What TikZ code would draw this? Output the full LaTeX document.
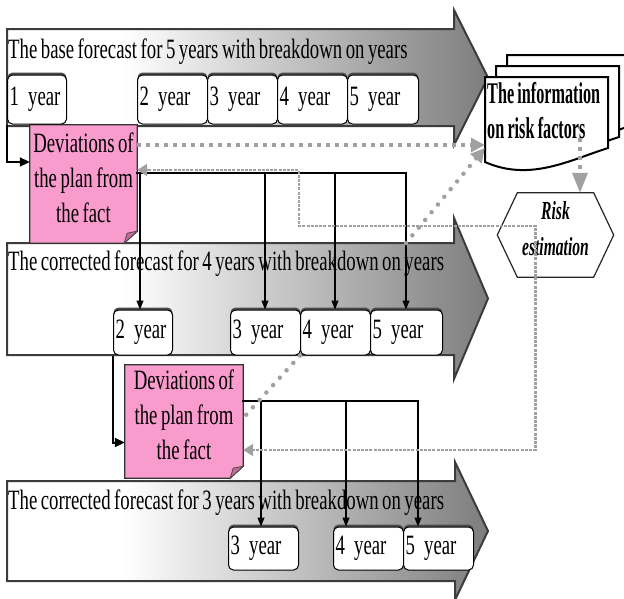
\documentclass[tikz,border=0pt]{standalone}
\usepackage{fontspec}
\setmainfont{Liberation Serif}[FakeStretch=0.67,WordSpace=0.75]
\newfontfamily\docfont{Liberation Serif}[FakeStretch=0.54,WordSpace=0.8]
\newfontfamily\riskfont{Liberation Serif}[FakeStretch=0.6]
\usetikzlibrary{arrows.meta,calc}

\definecolor{notepink}{RGB}{250,155,205}
\definecolor{foldpink}{RGB}{200,105,155}
\definecolor{bandedge}{RGB}{60,60,60}
\definecolor{bandend}{RGB}{125,125,125}
\definecolor{linkgray}{RGB}{160,160,160}

% white on the left, darkening towards the arrow tip
\pgfdeclarehorizontalshading{bandshade}{100bp}{color(0bp)=(white); color(37bp)=(white); color(75bp)=(bandend); color(100bp)=(bandend)}

\pgfdeclarelayer{back}
\pgfsetlayers{back,main}

\tikzset{
  band/.style={shade, shading=bandshade, draw=bandedge, line width=2pt, line join=miter},
  bandtext/.style={anchor=base west, inner sep=0pt, font=\fontsize{28}{35}\selectfont},
  yearbox/.style 2 args={draw=black, line width=1pt, fill=white, rounded corners=5pt,
    anchor=west, inner xsep=2pt, inner ysep=0pt, text width=#1, minimum height=#2,
    align=left, font=\fontsize{28}{35}\selectfont,
    preaction={fill=black!70, transform canvas={yshift=2.5pt}}},
  notebox/.style={inner sep=0pt, align=center, text depth=13pt, font=\fontsize{28}{35}\selectfont},
  noteshape/.style={fill=notepink, draw=black!80, line width=1.2pt},
  notefold/.style={fill=foldpink, draw=black!70, line width=0.8pt},
  docline/.style={fill=white, draw=black, line width=2pt},
  docarea/.style={minimum width=123pt, minimum height=88pt, inner sep=0pt},
  doctext/.style={anchor=north west, inner sep=0pt, align=left, font=\docfont\bfseries\fontsize{30}{35}\selectfont},
  riskbox/.style={minimum width=116pt, minimum height=84pt, inner sep=0pt, align=center,
    text depth=14pt, font=\riskfont\bfseries\itshape\fontsize{26}{36}\selectfont},
  hexline/.style={fill=white, draw=black!85, line width=1.2pt},
  bracket/.style={draw=black, line width=2.8pt, line cap=rect},
  feed/.style={draw=black, line width=1.1pt, -{Triangle[length=9pt,width=7pt]}},
  link/.style={draw=black, line width=2pt, -{Triangle[length=10pt,width=9pt]}},
  sqdots/.style={draw=linkgray, line width=3.5pt, dash pattern=on 3.5pt off 5.5pt},
  rounddots/.style={draw=linkgray, line width=4.5pt, line cap=round, dash pattern=on 0pt off 10pt},
  finedash/.style={draw=linkgray, line width=2.2pt, dash pattern=on 3pt off 1.2pt},
  graytip/.style={-{Triangle[length=#1,width=14pt]}},
  pics/docsheet/.style={code={
    \draw[docline] (0,0) -- (123,0) -- (123,71) .. controls (85,83) and (45,105) .. (0,85) -- cycle;
  }},
}

\begin{document}
\begin{tikzpicture}[x=1pt,y=-1pt]
\useasboundingbox (0,0) rectangle (624,598);

\begin{pgfonlayer}{back}
  \fill[white] (0,0) rectangle (624,598);
  % the three forecast bands
  \path[band] (7,29) -- (454,29) -- (454,10) -- (488,77.5) -- (454,145) -- (454,126) -- (7,126) -- cycle;
  \path[band] (7,243) -- (454,243) -- (454,218) -- (488,298.5) -- (454,379) -- (454,355) -- (7,355) -- cycle;
  \path[band] (7,481) -- (455,481) -- (455,462) -- (488,531) -- (455,600) -- (455,581) -- (7,581) -- cycle;
\end{pgfonlayer}

% band titles
\node[bandtext] (t1) at (8,58) {The base forecast for 5 years with breakdown on years};
\node[bandtext] (t2) at (8,270) {The corrected forecast for 4 years with breakdown on years};
\node[bandtext] (t3) at (8,509) {The corrected forecast for 3 years with breakdown on years};

% years of the base forecast
\node[yearbox={55pt}{49pt}] (a1y1) at (7,99.5) {1 year};
\node[yearbox={66pt}{49pt}] (a1y2) at (137,99.5) {2 year};
\node[yearbox={66pt}{49pt}] (a1y3) at (207,99.5) {3 year};
\node[yearbox={66pt}{49pt}] (a1y4) at (277,99.5) {4 year};
\node[yearbox={67pt}{49pt}] (a1y5) at (347,99.5) {5 year};

% years of the 4-year forecast
\node[yearbox={55pt}{45pt}] (a2y2) at (113,332.5) {2 year};
\node[yearbox={66pt}{45pt}] (a2y3) at (230,332.5) {3 year};
\node[yearbox={66pt}{45pt}] (a2y4) at (300,332.5) {4 year};
\node[yearbox={68pt}{45pt}] (a2y5) at (370,332.5) {5 year};

% years of the 3-year forecast
\node[yearbox={66pt}{43pt}] (a3y3) at (228,548.5) {3 year};
\node[yearbox={66pt}{43pt}] (a3y4) at (333,548.5) {4 year};
\node[yearbox={66pt}{43pt}] (a3y5) at (403,548.5) {5 year};

% deviation notes
\node[notebox, minimum width=107pt, minimum height=118pt] (pink1) at (83.5,184) {Deviations of\\the plan from\\the fact};
\node[notebox, minimum width=118pt, minimum height=113pt] (pink2) at (184,421.5) {Deviations of\\the plan from\\the fact};

% risk estimation
\node[riskbox] (risk) at (555.5,235) {Risk\\estimation};

\begin{pgfonlayer}{back}
  \foreach \n in {pink1,pink2}{
    \draw[noteshape] (\n.north west) -- (\n.north east) -- ($(\n.south east)+(0,-12)$)
      -- ($(\n.south east)+(-13,0)$) -- (\n.south west) -- cycle;
  }
  \draw[hexline] (risk.west) -- ($(risk.north west)+(20,0)$) -- ($(risk.north east)+(-20,0)$)
    -- (risk.east) -- ($(risk.south east)+(-20,0)$) -- ($(risk.south west)+(20,0)$) -- cycle;
\end{pgfonlayer}

% folded corners of the notes
\foreach \n in {pink1,pink2}{
  \draw[notefold] ($(\n.south east)+(-13,0)$) -- ($(\n.south east)+(0,-12)$) -- ($(\n.south east)+(-10,-10)$) -- cycle;
}

% stack of information sheets
\pic at (507,55) {docsheet};
\pic at (496,66) {docsheet};
\pic at (485,77) {docsheet};
\node[docarea] (info) at (546.5,121) {};
\node[doctext] (infotext) at (487,82) {The information\\on risk factors};

% feet of the brackets on the band edges
\coordinate (k1) at (140,243);
\coordinate (k2) at (265,243);
\coordinate (k3) at (335,243);
\coordinate (k4) at (406,243);
\coordinate (m1) at (261,481);
\coordinate (m2) at (346,481);
\coordinate (m3) at (418,481);

% first note distributes over the 4-year forecast
\draw[bracket] ([yshift=11pt]pink1.east) -| (k4);
\draw[bracket] (k1) -- ++(0,-70);
\draw[bracket] (k2) -- ++(0,-70);
\draw[bracket] (k3) -- ++(0,-70);
\draw[feed] (k1) -- (k1 |- a2y2.north);
\draw[feed] (k2) -- (k2 |- a2y3.north);
\draw[feed] (k3) -- (k3 |- a2y4.north);
\draw[feed] (k4) -- (k4 |- a2y5.north);

% second note distributes over the 3-year forecast
\draw[bracket] ([yshift=20.5pt]pink2.east) -| (m3);
\draw[bracket] (m1) -- ++(0,-80);
\draw[bracket] (m2) -- ++(0,-80);
\draw[feed] (m1) -- (m1 |- a3y3.north);
\draw[feed] (m2) -- (m2 |- a3y4.north);
\draw[feed] (m3) -- (m3 |- a3y5.north);

% actual year results feed the notes
\draw[link] (a1y1.south west) |- ([yshift=22pt]pink1.west);
\draw[link] (a2y2.south west) |- ([yshift=-21pt]pink2.west);

% information flows
\draw[sqdots, graytip=14pt] ([yshift=39pt]pink1.east) -- ([yshift=-24pt]info.west);
\draw[rounddots, graytip=14pt] (k4) -- ([yshift=-27pt]info.west);
\draw[rounddots] (a2y4.south west) -- ([yshift=3.5pt]pink2.east);
\draw[sqdots, -{Triangle[length=20pt,width=15pt]}] ($(info.south)+(33.5,-27)$) -- ($(risk.north)+(24.5,0)$);
\coordinate (bend) at (299,226);
\draw[finedash, -{Triangle[length=10pt,width=12pt]}] ($(risk.south)+(-20,0)$) |- (bend) |- ([yshift=14pt]pink1.east);
\draw[finedash, -{Triangle[length=10pt,width=12pt]}] ($(risk.south)+(-20,0)$) |- ([yshift=-28.5pt]pink2.east);
\end{tikzpicture}
\end{document}
